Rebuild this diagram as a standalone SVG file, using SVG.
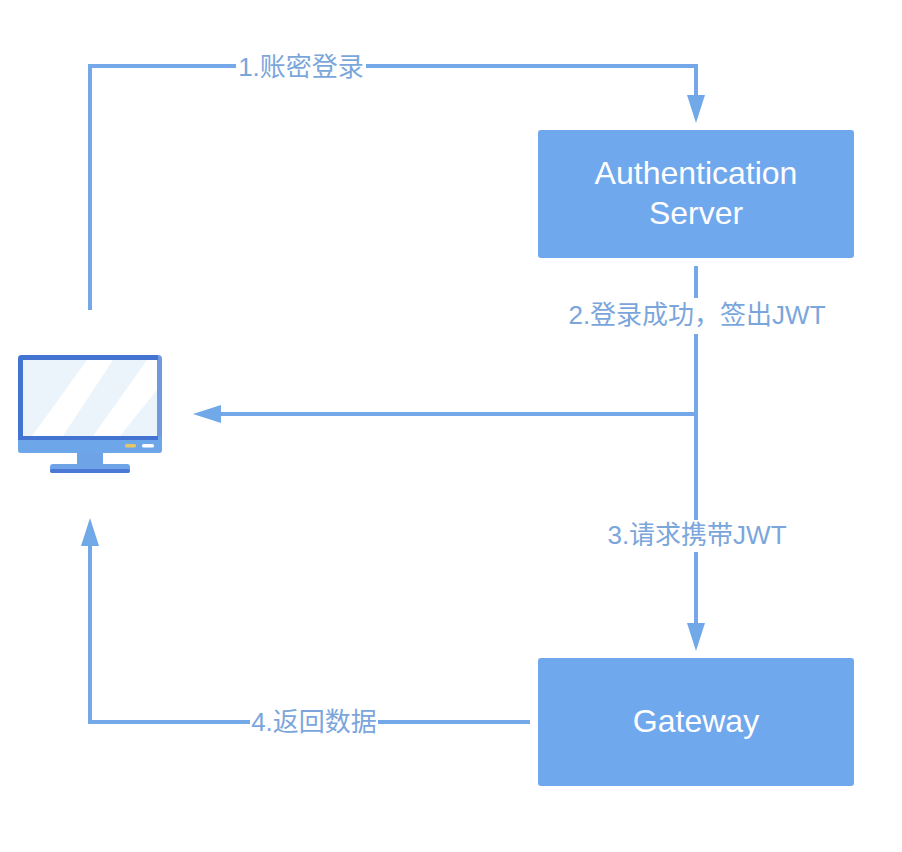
<svg xmlns="http://www.w3.org/2000/svg" width="902" height="852" viewBox="0 0 902 852">
<style>
.node{fill:#70a8ee}
.nt{fill:#fff;font-family:"Liberation Sans","Noto Sans CJK SC",sans-serif;font-size:32px;text-anchor:middle}
.lb{fill:#7ba6dc;font-family:"Liberation Sans","Noto Sans CJK SC",sans-serif;font-size:26px;text-anchor:middle}
.ln{fill:none;stroke:#74a8e8;stroke-width:4}
.ah{fill:#70a8e8}
</style>
<rect width="902" height="852" fill="#fff"/>
<g id="connectors">
<path class="ln" d="M90 310V66H236M366 66H696V100"/>
<polygon class="ah" points="687,95 705,95 696,123"/>
<path class="ln" d="M696 266V298M696 334V520M696 552V630M696 414H215"/>
<polygon class="ah" points="687,623 705,623 696,651"/>
<polygon class="ah" points="193,414 221,405 221,423"/>
<path class="ln" d="M530 722H378M250 722H90V540"/>
<polygon class="ah" points="81,546 99,546 90,518"/>
</g>
<g id="label1"><text class="lb" x="301" y="76">1.账密登录</text></g>
<g id="label2"><text class="lb" x="697" y="324">2.登录成功，签出JWT</text></g>
<g id="label3"><text class="lb" x="697" y="544">3.请求携带JWT</text></g>
<g id="label4"><text class="lb" x="314" y="731">4.返回数据</text></g>
<g id="auth-server">
<rect class="node" x="538" y="130" width="316" height="128" rx="3"/>
<text class="nt" x="696" y="184">Authentication</text>
<text class="nt" x="696" y="224">Server</text>
</g>
<g id="gateway">
<rect class="node" x="538" y="658" width="316" height="128" rx="3"/>
<text class="nt" x="696" y="732">Gateway</text>
</g>
<g id="computer">
<rect x="77" y="450" width="26" height="16" fill="#6ea3e8"/>
<rect x="50" y="464" width="80" height="9" rx="3" fill="#6ea3e8"/>
<rect x="50" y="469" width="80" height="4" rx="2" fill="#4a78d4"/>
<rect x="18" y="355" width="144" height="98" rx="4" fill="#7099e0"/>
<path d="M18 359a4 4 0 0 1 4-4H158V360H23V436H18Z" fill="#4474d2"/>
<rect x="18" y="436" width="144" height="17" rx="3" fill="#6ea6ea"/>
<rect x="18" y="436" width="140" height="4" fill="#4474d2"/>
<rect x="23" y="360" width="134" height="76" fill="#ebf4fb"/>
<polygon points="87,360 113,360 63,436 32,436" fill="#fff"/>
<polygon points="147,360 157,360 157,390 120,436 93,436" fill="#fff"/>
<rect x="125" y="444" width="11" height="3.500" rx="1.500" fill="#e8c566"/>
<rect x="142" y="444" width="12" height="3.500" rx="1.500" fill="#fff"/>
</g>
</svg>
